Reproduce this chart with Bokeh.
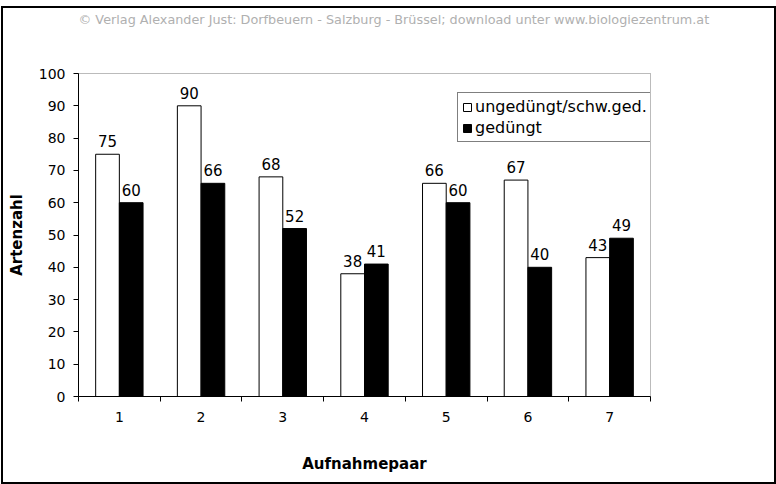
from bokeh.plotting import figure
from bokeh.models import (Range1d, FixedTicker, Legend, LegendItem, ColumnDataSource, Title)
from bokeh.transform import dodge
from bokeh.embed import file_html
from bokeh.resources import INLINE
from bokeh.core.properties import value

# Species counts per relevé pair
pairs = ["1", "2", "3", "4", "5", "6", "7"]
unfertilized = [75, 90, 68, 38, 66, 67, 43]
fertilized = [60, 66, 52, 41, 60, 40, 49]
y_ticks = [0, 10, 20, 30, 40, 50, 60, 70, 80, 90, 100]
series_names = ["ungedüngt/schw.ged.", "gedüngt"]
credit = "© Verlag Alexander Just: Dorfbeuern - Salzburg - Brüssel; download unter www.biologiezentrum.at"

FONT = "DejaVu Sans"
pos = list(range(1, len(pairs) + 1))

src = ColumnDataSource(dict(
    x=pos,
    a=unfertilized,
    b=fertilized,
    la=[str(v) for v in unfertilized],
    lb=[str(v) for v in fertilized],
))

p = figure(width=771, height=474,
           x_range=Range1d(0.5, len(pairs) + 0.5), y_range=Range1d(0, 100),
           output_backend="svg", toolbar_location=None,
           min_border_left=75, min_border_right=124,
           min_border_top=65, min_border_bottom=86)
# outer chart frame drawn as a CSS outline around the canvas
p.margin = (8, 0, 0, 3)
p.styles = {"outline": "2px solid black", "outline-offset": "0px"}

# credit line at the very top, left-aligned with the plot area
p.title.text = credit
p.title.align = "left"
p.title.offset = 0
p.title.text_font = FONT
p.title.text_font_size = "12.8px"
p.title.text_font_style = "normal"
p.title.text_color = "#b0b0b0"
p.title.standoff = 0
# blank spacer between the credit line and the plot area
p.add_layout(Title(text="\u00a0", text_font_size="10px", standoff=34), "above")

p.background_fill_color = "white"
p.border_fill_color = "white"
p.outline_line_color = "#777777"
p.outline_line_dash = "1 1"
p.outline_line_width = 1
p.xgrid.visible = False
p.ygrid.visible = False

bw = 0.29
r1 = p.vbar(x=dodge("x", -bw / 2, range=p.x_range), top="a", width=bw, source=src,
            fill_color="white", line_color="black", line_width=1)
r2 = p.vbar(x=dodge("x", bw / 2, range=p.x_range), top="b", width=bw, source=src,
            fill_color="black", line_color="black", line_width=1)

# value labels above each bar
for col, lab, off in (("a", "la", -bw / 2), ("b", "lb", bw / 2)):
    p.text(x=dodge("x", off, range=p.x_range), y=col, text=lab, source=src,
           text_align="center", text_baseline="bottom", y_offset=-7,
           text_font=value(FONT), text_font_size="15px", text_color="black")

# x axis: labels at category centres, ticks at category boundaries
xa = p.xaxis[0]
xa.ticker = FixedTicker(ticks=pos, minor_ticks=[i + 0.5 for i in range(len(pairs) + 1)])
xa.major_label_overrides = {i: lab for i, lab in zip(pos, pairs)}
xa.major_tick_out = 0
xa.major_tick_in = 0
xa.minor_tick_out = 5
xa.minor_tick_in = 0
xa.minor_tick_line_color = "black"
xa.axis_line_color = "black"
xa.major_label_standoff = 10
xa.major_label_text_font = FONT
xa.major_label_text_font_size = "14px"
xa.major_label_text_color = "black"
xa.axis_label = "Aufnahmepaar"
xa.axis_label_text_font = FONT
xa.axis_label_text_font_size = "15px"
xa.axis_label_text_font_style = "bold"
xa.axis_label_text_color = "black"
xa.axis_label_standoff = 30

ya = p.yaxis[0]
ya.ticker = FixedTicker(ticks=y_ticks, minor_ticks=[])
ya.major_tick_out = 5
ya.major_tick_in = 0
ya.major_tick_line_color = "black"
ya.axis_line_color = "black"
ya.major_label_standoff = 8
ya.major_label_text_font = FONT
ya.major_label_text_font_size = "14px"
ya.major_label_text_color = "black"
ya.axis_label = "Artenzahl"
ya.axis_label_text_font = FONT
ya.axis_label_text_font_size = "15px"
ya.axis_label_text_font_style = "bold"
ya.axis_label_text_color = "black"
ya.axis_label_standoff = 10

legend = Legend(items=[LegendItem(label=series_names[0], renderers=[r1]),
                       LegendItem(label=series_names[1], renderers=[r2])],
                location=(379, 254), orientation="vertical")
legend.label_text_font = FONT
legend.label_text_font_size = "16px"
legend.label_text_color = "black"
legend.glyph_width = 10
legend.glyph_height = 10
legend.label_standoff = 3
legend.label_height = 18
legend.padding = 4
legend.spacing = 2
legend.margin = 0
legend.border_line_color = "black"
legend.border_line_width = 1
legend.background_fill_color = "white"
legend.background_fill_alpha = 1
p.add_layout(legend)

open("out.html", "w").write(file_html(p, INLINE))
